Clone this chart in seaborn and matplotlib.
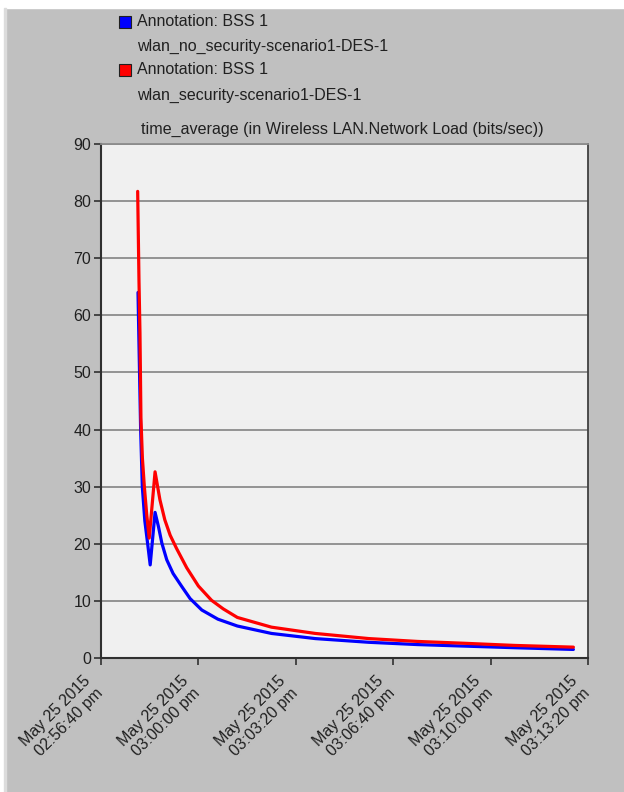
import matplotlib
matplotlib.use("Agg")
import matplotlib.pyplot as plt
import matplotlib.transforms as mtransforms
from matplotlib.patches import Rectangle
import seaborn as sns
import pandas as pd

# seconds after 02:56:40 pm
blue_t = [76, 78, 81.4, 84.8, 90, 95.8, 101, 111, 118, 125, 135, 148, 166, 183,
          207, 240, 280, 350, 440, 550, 650, 740, 850, 970]
blue_v = [64, 55, 40, 30, 24, 20, 16.3, 25.5, 23, 20.1, 17.2, 14.8, 12.5, 10.4,
          8.4, 6.8, 5.6, 4.3, 3.4, 2.75, 2.35, 2.1, 1.8, 1.5]
red_t = [75.3, 78, 80, 82, 85, 89, 94, 99, 111, 121, 131, 142, 155, 176, 200,
         227, 251, 280, 350, 440, 550, 650, 740, 850, 970]
red_v = [81.7, 66, 57, 42, 35, 30, 25, 21, 32.6, 27.7, 24.2, 21.5, 19.2, 15.8,
         12.6, 10.1, 8.6, 7.1, 5.4, 4.3, 3.4, 2.9, 2.6, 2.2, 1.9]

tick_pos = [0, 200, 400, 600, 800, 1000]
tick_labels = ["May 25 2015\n02:56:40 pm", "May 25 2015\n03:00:00 pm",
               "May 25 2015\n03:03:20 pm", "May 25 2015\n03:06:40 pm",
               "May 25 2015\n03:10:00 pm", "May 25 2015\n03:13:20 pm"]
legend_labels = [("Annotation: BSS 1", "wlan_no_security-scenario1-DES-1"),
                 ("Annotation: BSS 1", "wlan_security-scenario1-DES-1")]
colors = ["#0000ff", "#ff0000"]

df = pd.concat([
    pd.DataFrame({"t": blue_t, "v": blue_v, "run": "no_security"}),
    pd.DataFrame({"t": red_t, "v": red_v, "run": "security"}),
])

sns.set_style("white")
plt.rcParams["font.family"] = ["Liberation Sans", "DejaVu Sans"]

fig = plt.figure(figsize=(6.24, 7.92), dpi=100, facecolor="#c0c0c0")
# white strips at the window edge
fig.patches.append(Rectangle((0, 1 - 8 / 792), 1, 8 / 792, transform=fig.transFigure,
                             color="white", zorder=0))
fig.patches.append(Rectangle((0, 0), 4 / 624, 1, transform=fig.transFigure,
                             color="white", zorder=0))
fig.patches.append(Rectangle((4 / 624, 0), 2 / 624, 1 - 8 / 792, transform=fig.transFigure,
                             color="#dcdcdc", zorder=0))

ax = fig.add_axes([101 / 624, 1 - 658 / 792, 487 / 624, 514 / 792])
ax.set_facecolor("#f0f0f0")

sns.lineplot(data=df, x="t", y="v", hue="run", palette=colors, linewidth=2.3,
             legend=False, ax=ax, estimator=None, sort=False)

ax.set_xlim(0, 1000)
ax.set_ylim(0, 90)
ax.set_yticks(range(0, 91, 10))
ax.yaxis.grid(True, color="#8c8c8c", linewidth=1.3)
ax.xaxis.grid(False)
ax.set_axisbelow(True)
ax.set_xlabel("")
ax.set_ylabel("")
ax.set_xticks(tick_pos)
ax.set_xticklabels(tick_labels, rotation=45, ha="right", va="top",
                   rotation_mode="anchor", multialignment="right")
ax.tick_params(axis="both", direction="out", length=5, width=1.2, color="#303030",
               labelsize=11.5, labelcolor="#202020", bottom=True, left=True)
ax.tick_params(axis="x", pad=6)
ax.tick_params(axis="y", pad=2)
shift = mtransforms.ScaledTranslation(-18 / 100, 0, fig.dpi_scale_trans)
for lbl in ax.get_xticklabels():
    lbl.set_transform(lbl.get_transform() + shift)
for side in ["left", "bottom"]:
    ax.spines[side].set_color("#303030")
    ax.spines[side].set_linewidth(1.5)
for side in ["top", "right"]:
    ax.spines[side].set_color("#8c8c8c")
    ax.spines[side].set_linewidth(1.3)
ax.spines["right"].set_color("#404040")

# legend block
line_y = [22, 46, 70, 95]
for i, (first, second) in enumerate(legend_labels):
    y1 = line_y[2 * i]
    y2 = line_y[2 * i + 1]
    fig.patches.append(Rectangle((119 / 624, 1 - (y1 + 6) / 792), 12 / 624, 12 / 792,
                                 transform=fig.transFigure, facecolor=colors[i],
                                 edgecolor="#202020", linewidth=0.8))
    fig.text(137 / 624, 1 - y1 / 792, first, fontsize=11.5, va="center", ha="left",
             color="#202020")
    fig.text(137 / 624, 1 - y2 / 792, second, fontsize=11.5, va="center", ha="left",
             color="#202020")

fig.text(141 / 624, 1 - 129 / 792,
         "time_average (in Wireless LAN.Network Load (bits/sec))",
         fontsize=11.6, va="center", ha="left", color="#202020")

fig.savefig("out.png", dpi=100, facecolor=fig.get_facecolor())
